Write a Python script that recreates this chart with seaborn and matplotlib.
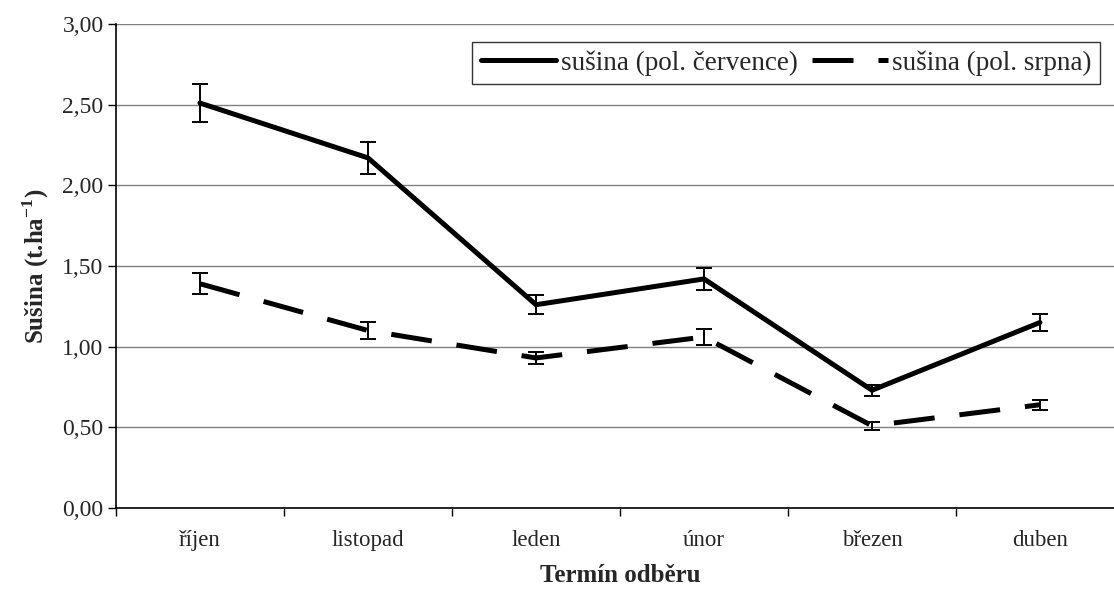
import pandas as pd
import numpy as np
import seaborn as sns
import matplotlib.pyplot as plt
from matplotlib.ticker import FixedLocator, FuncFormatter

# data
terminy = ['říjen', 'listopad', 'leden', 'únor', 'březen', 'duben']
cervence = [2.51, 2.17, 1.26, 1.42, 0.73, 1.15]
cervence_err = [0.12, 0.10, 0.06, 0.07, 0.035, 0.055]
srpna = [1.39, 1.10, 0.93, 1.06, 0.51, 0.64]
srpna_err = [0.065, 0.055, 0.04, 0.05, 0.025, 0.03]
nazvy = ['sušina (pol. července)', 'sušina (pol. srpna)']

sns.set_theme(style='white')
plt.rcParams['font.family'] = ['Liberation Serif', 'DejaVu Serif']
plt.rcParams['mathtext.fontset'] = 'custom'
plt.rcParams['mathtext.rm'] = 'Liberation Serif'
plt.rcParams['mathtext.bf'] = 'Liberation Serif:bold'

x = np.arange(len(terminy))
df = pd.DataFrame({
    'x': np.concatenate([x, x]),
    'y': cervence + srpna,
    'serie': [nazvy[0]] * len(terminy) + [nazvy[1]] * len(terminy),
})

fig = plt.figure(figsize=(11.14, 5.95), dpi=100)
ax = fig.add_axes([116 / 1114, 1 - 508 / 595, 1008 / 1114, 484 / 595])

sns.lineplot(data=df, x='x', y='y', hue='serie', style='serie',
             palette=['black', 'black'], dashes=['', (8.2, 5)],
             linewidth=3.6, ax=ax)

ax.errorbar(x, cervence, yerr=cervence_err, fmt='none', ecolor='black',
            elinewidth=1.4, capsize=5.5, capthick=1.4)
ax.errorbar(x, srpna, yerr=srpna_err, fmt='none', ecolor='black',
            elinewidth=1.4, capsize=5.5, capthick=1.4)

ax.set_xlim(-0.5, len(terminy) - 0.5)
ax.set_ylim(0, 3)
ax.set_yticks(np.arange(0, 3.01, 0.5))
ax.yaxis.set_major_formatter(FuncFormatter(lambda v, p: f'{v:.2f}'.replace('.', ',')))
ax.set_xticks(x)
ax.set_xticklabels(terminy)
ax.xaxis.set_minor_locator(FixedLocator(np.arange(-0.5, len(terminy), 1)))
ax.tick_params(axis='x', which='major', length=0, pad=16, labelsize=16.5)
ax.tick_params(axis='x', which='minor', length=6, width=1, color='black',
               direction='out', bottom=True)
ax.tick_params(axis='y', length=6, width=1, color='black', direction='out',
               left=True, labelsize=17, pad=3)

ax.grid(axis='y', color='#808080', linewidth=1)
for s in ['top', 'right']:
    ax.spines[s].set_visible(False)
for s in ['left', 'bottom']:
    ax.spines[s].set_color('black')
    ax.spines[s].set_linewidth(1.2)

ax.set_xlabel('Termín odběru', fontsize=18, fontweight='bold', labelpad=9)
ax.set_ylabel(r'Sušina (t.ha$^{\mathbf{-1}}$)', fontsize=18, fontweight='bold', labelpad=8)

leg = ax.legend(loc='upper right', bbox_to_anchor=(984 / 1008, 1 - 18 / 484),
                ncol=2, frameon=True, fancybox=False, fontsize=19.5,
                handlelength=2.8, handletextpad=0.18, columnspacing=0.5,
                borderpad=0.3, borderaxespad=0, title=None)
leg.get_frame().set_edgecolor('black')
leg.get_frame().set_linewidth(1)
for h in leg.get_lines():
    h.set_linewidth(3.6)

fig.savefig('out.png', dpi=100)
